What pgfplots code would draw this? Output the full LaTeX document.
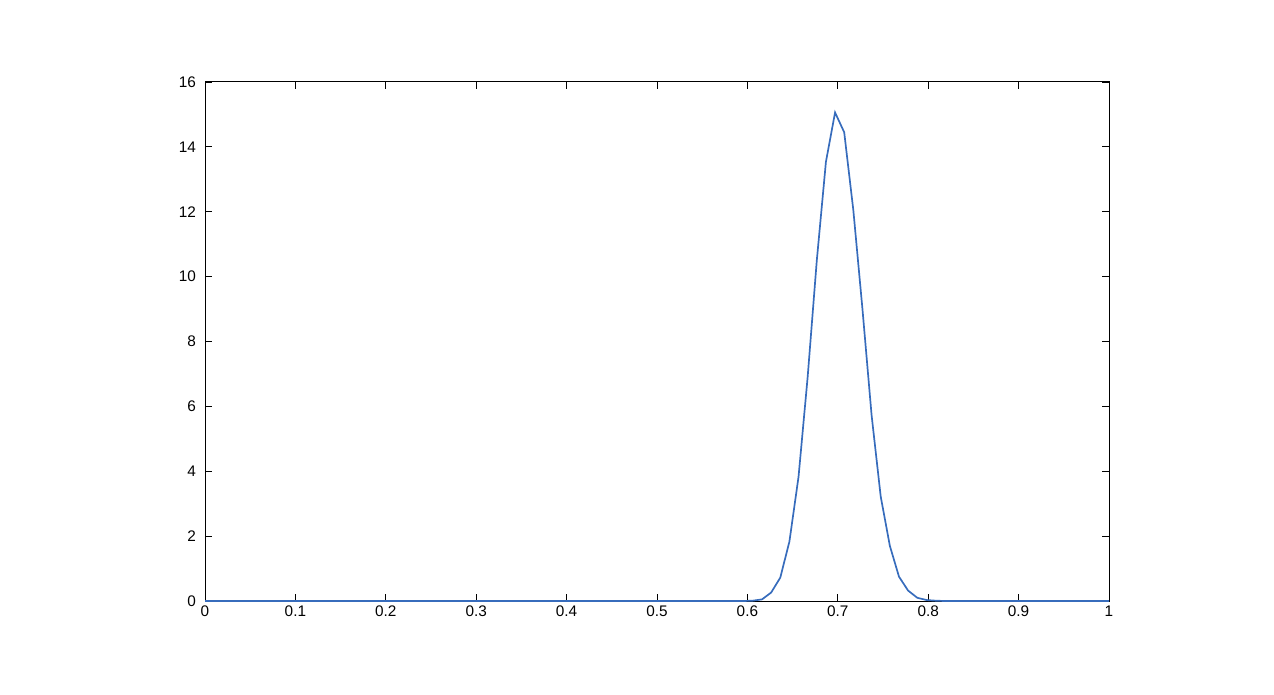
\documentclass[border=0pt]{standalone}
\usepackage{fontspec}
\setmainfont{Liberation Sans}
\usepackage{pgfplots}
\pgfplotsset{compat=1.18}
\definecolor{mlblue}{RGB}{55,108,188}

\begin{document}
\begin{tikzpicture}
\begin{axis}[
    scale only axis,
    width=452bp, height=259.5bp,
    xmin=0, xmax=1, ymin=0, ymax=16,
    xtick={0,0.1,...,1.0},
    ytick={0,2,...,16},
    xticklabels={0,0.1,0.2,0.3,0.4,0.5,0.6,0.7,0.8,0.9,1},
    tick align=inside,
    major tick length=3.5bp,
    tick style={black, line width=0.4pt},
    axis line style={black, line width=0.5pt},
    tick label style={font=\fontsize{7.7}{9}\selectfont},
    /pgf/number format/assume math mode=true,
    xticklabel style={yshift=1bp},
    yticklabel style={xshift=-1bp},
]
\addplot[color=mlblue, line width=0.85pt] coordinates {
    (0,0) (0.59596,0) (0.60606,0.01) (0.61616,0.05)
    (0.62626,0.26) (0.63636,0.72) (0.64646,1.83) (0.65657,3.83)
    (0.66667,6.91) (0.67677,10.5) (0.68687,13.54) (0.69697,15.06)
    (0.70707,14.45) (0.71717,12.05) (0.72727,9.0) (0.73737,5.73)
    (0.74747,3.22) (0.75758,1.7) (0.76768,0.75) (0.77778,0.32)
    (0.78788,0.1) (0.79798,0.03) (0.80808,0.01) (0.81818,0) (1,0)
};
\end{axis}
\path (current axis.south west) ++(-102.5bp,-47bp) coordinate (bbA);
\path (current axis.north east) ++(82.5bp,41bp) coordinate (bbB);
\useasboundingbox (bbA) rectangle (bbB);
\end{tikzpicture}
\end{document}
